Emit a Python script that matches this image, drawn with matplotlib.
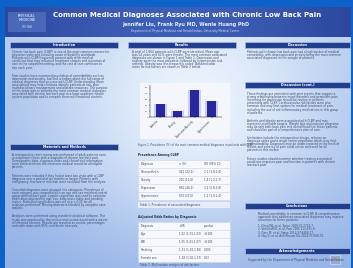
import textwrap
import numpy as np
import matplotlib.pyplot as plt
from matplotlib.patches import Rectangle

# poster text
title = 'Common Medical Diagnoses Associated with Chronic Low Back Pain'
authors = 'Jennifer Liu, Frank Ryu MD, Wenle Huang PhD'
affil = 'Department of Physical Medicine and Rehabilitation, University Medical Center'

# bar chart data
bar_labels = ['Arthritis', 'Obesity', 'Depression/Anxiety', 'Hypertension']
bar_values = [22, 11, 46, 27]
y_ticks = [0, 10, 20, 30, 40, 50]

# table data
t1_title = 'Prevalence Among CLBP'
t1_rows = [['Diagnosis', 'n (%)', 'OR (95% CI)'],
           ['Osteoarthritis', '412 (22.1)', '2.1 (1.8-2.4)'],
           ['Obesity', '205 (11.0)', '1.4 (1.2-1.7)'],
           ['Depression', '861 (46.2)', '3.2 (2.8-3.6)'],
           ['Hypertension', '503 (27.0)', '1.2 (1.0-1.4)']]
t2_title = 'Adjusted Odds Ratios by Diagnosis'
t2_rows = [['Diagnosis', 'aOR', 'p-value'],
           ['Age', '1.02 (1.01-1.03)', '<0.001'],
           ['BMI', '1.05 (1.03-1.07)', '<0.001'],
           ['Smoking', '1.31 (1.10-1.56)', '0.003'],
           ['Female sex', '1.18 (1.02-1.37)', '0.03']]

intro1 = ('Chronic low back pain (CLBP) is one of the most common reasons for physician visits and a leading '
          'cause of disability worldwide. Patients with CLBP frequently present with other medical conditions '
          'that may influence treatment choices and outcomes of care in the outpatient setting, and the cost '
          'of care continues to rise each year.')
intro2 = ('Prior studies have examined psychological comorbidities such as depression and anxiety, but less is '
          'known about the full range of medical diagnoses that co-occur with CLBP. Understanding these '
          'associations may help clinicians identify patients at risk, plan multidisciplinary management and '
          'allocate resources. The purpose of this study was to describe the most common medical diagnoses '
          'associated with chronic low back pain in a large academic health system population and to compare '
          'them with matched controls.')
meth1 = ('A retrospective chart review was performed of adult patients seen in outpatient clinics with a '
         'diagnosis of chronic low back pain. Demographic data, diagnosis codes and clinical visit information '
         'were extracted from the electronic medical record for all eligible patients.')
meth2 = ('Patients were included if they had at least two visits with a CLBP diagnosis over a period of six '
         'months or longer. Patients with malignancy, fracture or infection were excluded from the analysis.')
meth3 = ('Comorbid diagnoses were grouped into categories. Prevalence of each category was compared with an '
         'age and sex matched control group without back pain. Logistic regression was used to calculate odds '
         'ratios adjusted for age, sex, body mass index and smoking status. Statistical significance was set '
         'at p < 0.05 for all analyses performed. Missing data were handled by complete case analysis.')
meth4 = ('Analyses were performed using standard statistical software. The study was approved by the '
         'institutional review board with a waiver of informed consent. Results are reported as counts, '
         'percentages and odds ratios with 95% confidence intervals.')
res1 = ('A total of 1,864 patients with CLBP were identified. Mean age was 54 years and 61% were female. '
        'The most common associated diagnoses are shown in Figure 1 and Table 1. Depression and anxiety '
        'were the most prevalent, followed by hypertension and arthritis. Obesity was less frequently '
        'coded. Adjusted odds ratios for risk factors are shown in Table 2 below.')
disc1 = ('Patients with chronic low back pain had a high burden of medical comorbidity, with depression and '
         'anxiety being the most common associated diagnoses in this sample of patients.')
disc2 = ('These findings are consistent with prior reports that suggest a strong relationship between mood '
         'disorders and persistent pain. Screening for depression should be routine in patients presenting '
         'with CLBP. Cardiovascular risk factors were also common and may limit options for medical treatment '
         'of pain, including the use of anti-inflammatory medications in this group of patients.')
disc3 = ('Arthritis and obesity were associated with CLBP and may represent modifiable targets. Weight loss '
         'and exercise programs may benefit both back pain and overall health in these patients, and should '
         'be part of a comprehensive plan of care.')
disc4 = ('Limitations include the retrospective design, reliance on diagnosis codes and a single center '
         'population which may limit generalizability. Diagnoses may be under-reported in the medical '
         'record, and severity of pain could not be assessed for all patients in this review.')
disc5 = ('Future studies should examine whether treating associated conditions improves pain and function '
         'in patients with chronic low back pain.')
concl = ('Medical comorbidity is common in CLBP. A comprehensive approach that addresses associated diagnoses '
         'may improve outcomes for these patients.')
refs = ['1. Deyo RA, et al. Spine 2006;31:2724-7.', '2. Von Korff M, et al. Pain 2005;113:331-9.',
        '3. Gore M, et al. Spine 2012;37:E668-77.', '4. Hoy D, et al. Ann Rheum Dis 2014;73:968-74.']
ack = 'Supported by the Department of Physical Medicine and Rehabilitation.'

W, H = 353, 268
fig = plt.figure(figsize=(3.53, 2.68), dpi=100)
fig.patch.set_facecolor('#0d62c9')
ax = fig.add_axes([0, 0, 1, 1])
ax.set_xlim(0, W)
ax.set_ylim(H, 0)
ax.axis('off')

# background gradient of the poster body
gx, gy = np.meshgrid(np.linspace(0, 1, 200), np.linspace(0, 1, 200))
g = 0.55 * np.exp(-((gx - 0.55) ** 2 / 0.18 + (gy - 0.35) ** 2 / 0.35)) + 0.45 * (1 - gy) * 0.5
c0 = np.array([0.55, 0.68, 0.90])
c1 = np.array([0.92, 0.95, 0.99])
img = c0 + (c1 - c0) * np.clip(g / g.max(), 0, 1)[..., None]
ax.imshow(img, extent=(5, 351, 268, 37), aspect='auto', zorder=0, interpolation='bilinear')

# header band
hg = np.linspace(0, 1, 100)[None, :]
hcol = np.array([0.17, 0.28, 0.62]) + np.array([0.07, 0.09, 0.10]) * np.sin(np.pi * hg)[..., None]
ax.imshow(hcol, extent=(5, 351, 37, 7), aspect='auto', zorder=1)
ax.add_patch(Rectangle((8, 12), 38, 20, facecolor='#4a68b8', edgecolor='none', zorder=2))
ax.text(27, 18, 'PHYSICAL\nMEDICINE', color='#b8c8ee', fontsize=2.3, ha='center', va='center',
        fontweight='bold', zorder=3)
ax.text(27, 27, 'REHAB', color='#b8c8ee', fontsize=2.3, ha='center', va='center', zorder=3)
ax.text(187, 15, title, color='white', fontsize=5.0, ha='center', va='center', fontweight='bold', zorder=3)
ax.text(186, 24.5, authors, color='#e8eeff', fontsize=3.5, ha='center', va='center', fontweight='bold', zorder=3)
ax.text(185, 31, affil, color='#d0dcf8', fontsize=2.0, ha='center', va='center', zorder=3)


def section(x0, x1, y, name):
    ax.add_patch(Rectangle((x0, y), x1 - x0, 6, facecolor='#213f8c', edgecolor='#a8bce8', lw=0.5, zorder=3))
    ax.text((x0 + x1) / 2, y + 3, name, color='white', fontsize=2.4, ha='center', va='center',
            fontweight='bold', zorder=4)


def para(x, y, text, width=66, step=3.1, color='#3a4a6a'):
    lines = textwrap.wrap(text, width)
    for i, line in enumerate(lines):
        ax.text(x, y + i * step, line, fontsize=2.1, color=color, va='top', ha='left', zorder=4)
    return y + len(lines) * step


# left column
section(10, 118, 42, 'Introduction')
y = para(12, 50, intro1)
para(12, y + 5, intro2)
section(10, 118, 144, 'Materials and Methods')
y = para(12, 153, meth1)
y = para(12, y + 5, meth2)
y = para(12, y + 5, meth3)
para(12, y + 5, meth4)

# middle column
section(128, 236, 42, 'Results')
para(132, 50, res1, width=64)

ax.add_patch(Rectangle((140, 83), 90, 56, facecolor='#f4f6fc', edgecolor='none', zorder=2))
ax.text(138, 143, 'Figure 1. Prevalence (%) of the most common medical diagnoses in patients with CLBP.',
        fontsize=1.9, color='#3a4a6a', va='top', zorder=4)


def table(x0, x1, y0, rows, name):
    ax.text(x0, y0 - 5, name, fontsize=2.2, color='#20304a', fontweight='bold', va='center', zorder=4)
    rh = 8
    ax.add_patch(Rectangle((x0, y0), x1 - x0, rh * len(rows), facecolor='#f6f8fd', edgecolor='#c8d4ec',
                           lw=0.4, zorder=2))
    cx = [x0 + 3, x0 + (x1 - x0) * 0.45, x0 + (x1 - x0) * 0.72]
    for i, row in enumerate(rows):
        if i:
            ax.plot([x0, x1], [y0 + i * rh, y0 + i * rh], color='#c8d4ec', lw=0.4, zorder=3)
        for c, cell in zip(cx, row):
            ax.text(c, y0 + i * rh + rh / 2, cell, fontsize=2.0, color='#3a4a6a', va='center', zorder=4)


table(138, 230, 160, t1_rows, t1_title)
ax.add_patch(Rectangle((138, 202), 92, 6, facecolor='#e6ecf8', edgecolor='none', zorder=2))
ax.text(140, 205, 'Table 1. Prevalence of associated diagnoses', fontsize=2.0, color='#3a4a6a',
        va='center', zorder=4)
table(138, 230, 222, t2_rows, t2_title)
ax.text(140, 265, 'Table 2. Multivariate analysis of risk factors', fontsize=2.0, color='#3a4a6a',
        va='center', zorder=4)

# right column
section(245, 350, 42, 'Discussion')
para(247, 50, disc1, width=64)
section(245, 350, 82, 'Discussion (cont.)')
y = para(247, 92, disc2, width=64)
y = para(247, y + 5, disc3, width=64)
y = para(247, y + 5, disc4, width=64)
para(247, y + 5, disc5, width=64)
section(245, 350, 203, 'Conclusions')
para(258, 212, concl, width=58)
for i, r in enumerate(refs):
    ax.text(258, 224 + i * 3.4, r, fontsize=2.0, color='#3a4a6a', va='top', zorder=4)
section(245, 350, 248, 'Acknowledgements')
ax.text(248, 258, ack, fontsize=2.0, color='#3a4a6a', va='top', zorder=4)
ax.add_patch(Rectangle((330, 255), 10, 9, facecolor='#9aa8c8', edgecolor='#e0e6f4', lw=0.4, zorder=3))

# inset bar chart
bx = fig.add_axes([150 / W, 1 - 117 / H, 72 / W, 32 / H])
bx.set_facecolor('none')
x = np.arange(len(bar_values))
bx.bar(x, bar_values, width=0.75, color='#c8ccf0', edgecolor='none', zorder=1)
bx.bar(x, bar_values, width=0.5, color='#28289a', edgecolor='none', zorder=2)
bx.set_ylim(0, 55)
bx.set_xlim(-0.6, 3.6)
bx.set_yticks(y_ticks)
bx.set_yticklabels([str(v) for v in y_ticks], fontsize=1.6, color='#404040')
bx.set_xticks(x)
bx.set_xticklabels(bar_labels, rotation=45, ha='right', fontsize=1.8, color='#404040')
bx.tick_params(length=1, width=0.3, pad=0.5)
for s in ['top', 'right']:
    bx.spines[s].set_visible(False)
for s in ['left', 'bottom']:
    bx.spines[s].set_linewidth(0.3)

fig.savefig('out.png', dpi=100, facecolor=fig.get_facecolor())
